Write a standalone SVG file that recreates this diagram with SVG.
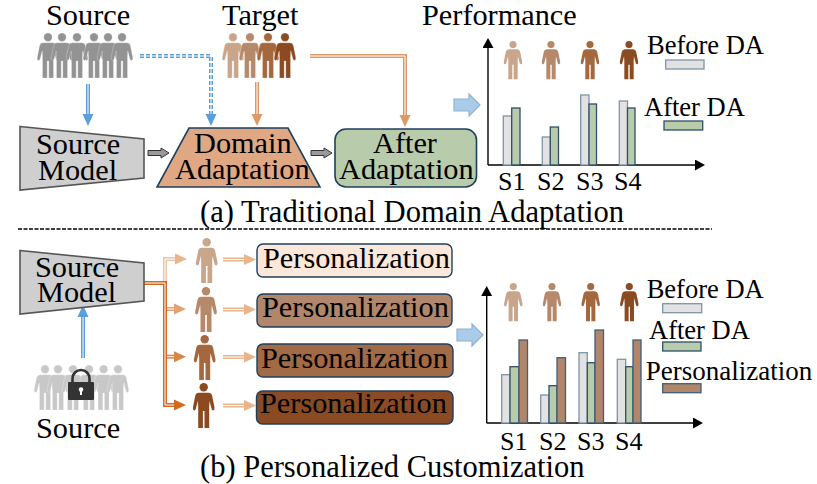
<svg xmlns="http://www.w3.org/2000/svg" width="817" height="484" viewBox="0 0 817 484">
<style>
text{font-family:"Liberation Serif","Times New Roman",serif;font-size:30.300px;fill:#000}
.lg{font-size:26.500px}.sx{font-size:26px}
.dk{stroke:#1f3f5f;stroke-width:1.6}
.mod{fill:#cfcfcf;stroke:#555;stroke-width:1.6}
.pb{stroke:#1f3f5f;stroke-width:1.4;rx:6px}
.g{fill:#e2e2e2;stroke:#7f93a8;stroke-width:1.3}
.v{fill:#b8cbab;stroke:#2f4f6a;stroke-width:1.3}
.b{fill:#b2866a;stroke:#3f5f7a;stroke-width:1.3}
.ax{stroke:#000;stroke-width:1.4;fill:none}
.w{fill:none;stroke:#fff;stroke-width:1}
.l{fill:none;stroke-width:4}
.bl{stroke:#5b9fd8}.or{stroke:#dc9a68}.pa{stroke:#e8b48c}.dr{stroke:#d2691e}.li{stroke:#ecc4a6}
.blk{fill:#a9cce9;stroke:#8fb2d0;stroke-width:1.2}
.gr{fill:#9a9a9a;stroke:#333;stroke-width:1}
</style>
<defs>
<g id="p"><circle cx="0" cy="4.200" r="4.200"/><path d="M-4.800,9.800H4.800Q7.800,9.800 8.500,13L10.800,24.500Q11.100,27 9.700,27.400Q8.400,27.700 7.900,26L5.800,18L5.500,24V45H0.800V28H-0.800V45H-5.500V24L-5.800,18L-7.900,26Q-8.400,27.700-9.700,27.400Q-11.100,27-10.800,24.500L-8.500,13Q-7.800,9.800-4.800,9.800Z"/></g>
<marker id="mb" markerUnits="userSpaceOnUse" markerWidth="12" markerHeight="12" refX="0" refY="6" orient="auto"><path d="M0,0.500L12,6L0,11.500Z" fill="#5b9fd8"/></marker>
<marker id="mo" markerUnits="userSpaceOnUse" markerWidth="12" markerHeight="12" refX="0" refY="6" orient="auto"><path d="M0,0.500L12,6L0,11.500Z" fill="#dc9a68"/></marker>
<marker id="mp" markerUnits="userSpaceOnUse" markerWidth="12" markerHeight="12" refX="0" refY="6" orient="auto"><path d="M0,0.500L12,6L0,11.500Z" fill="#e8b48c"/></marker>
<marker id="m2" markerUnits="userSpaceOnUse" markerWidth="12" markerHeight="12" refX="0" refY="6" orient="auto"><path d="M0,0.500L12,6L0,11.500Z" fill="#e2a274"/></marker>
<marker id="m3" markerUnits="userSpaceOnUse" markerWidth="12" markerHeight="12" refX="0" refY="6" orient="auto"><path d="M0,0.500L12,6L0,11.500Z" fill="#da8446"/></marker>
<marker id="m4" markerUnits="userSpaceOnUse" markerWidth="12" markerHeight="12" refX="0" refY="6" orient="auto"><path d="M0,0.500L12,6L0,11.500Z" fill="#d2691e"/></marker>
<marker id="ma" markerUnits="userSpaceOnUse" markerWidth="11" markerHeight="11" refX="0" refY="5.500" orient="auto"><path d="M0,0L10,5.500L0,11Z" fill="#000"/></marker>
</defs>
<rect width="817" height="484" fill="#fff"/>

<g id="source-a">
<text x="46" y="25">Source</text>
<g fill="#939393" stroke="#fff" stroke-width=".25">
<use href="#p" x="48" y="33"/><use href="#p" x="62" y="33"/><use href="#p" x="77" y="33"/><use href="#p" x="94" y="33"/><use href="#p" x="108" y="33"/><use href="#p" x="122" y="33"/>
</g></g>
<g id="target-a">
<text x="222" y="25">Target</text>
<g stroke="#fff" stroke-width=".25">
<use href="#p" x="233" y="33" fill="#c9a58c"/><use href="#p" x="250" y="33" fill="#b5896a"/><use href="#p" x="268" y="33" fill="#a5683e"/><use href="#p" x="285" y="33" fill="#8b4a20"/>
</g></g>
<g id="source-model-a"><path class="mod" d="M20,126.500L144,139V178L20,190Z"/><text x="36" y="154">Source</text><text x="38" y="180">Model</text></g>
<g id="domain-adaptation"><path class="dk" fill="#e0a783" d="M189,128H288L320,187H157Z"/><text x="194" y="153">Domain</text><text x="175" y="179">Adaptation</text></g>
<g id="after-adaptation"><rect class="dk" x="335" y="129" width="141.500" height="58" rx="11" fill="#b8cbab"/><text x="373" y="153">After</text><text x="339" y="179">Adaptation</text></g>

<g id="connectors">
<path class="l bl" d="M88,84V114" marker-end="url(#mb)"/><path class="w" d="M88,84V114"/>
<path class="l bl" stroke-dasharray="4 2" d="M140,56H211V114" marker-end="url(#mb)"/><path class="w" d="M140,56H211V114"/>
<path class="l or" d="M257,82V114" marker-end="url(#mo)"/><path class="w" d="M257,82V114"/>
<path class="l or" d="M310,56H405V115" marker-end="url(#mo)"/><path class="w" d="M310,56H405V115"/>
<path class="gr" d="M148,150.500H161V148L169,153L161,158V155.500H148Z"/>
<path class="gr" d="M311,150.500H324V148L332,153L324,158V155.500H311Z"/>
<path class="blk" d="M454,99H469V94L480,105L469,116V111H454Z"/>
<path class="blk" d="M457,329H472V324L483,335L472,346V341H457Z"/>

<path class="l bl" d="M83,358V317" marker-end="url(#mb)"/><path class="w" d="M83,358V317"/>
<path class="l li" d="M165,283V259H175" marker-end="url(#mp)"/><path class="w" d="M165,283V259H175"/>
<path class="l" stroke="#e2a274" d="M165,309H174" marker-end="url(#m2)"/><path class="w" d="M165,309H174"/>
<path class="l" stroke="#da8446" d="M165,356.700H174" marker-end="url(#m3)"/><path class="w" d="M165,356.700H174"/>
<path class="l dr" d="M144,283H165V405H174" marker-end="url(#m4)"/><path class="w" d="M144,283H165V405H174"/>
<path class="l pa" d="M223,259.500H244" marker-end="url(#mp)"/><path class="w" d="M223,259.500H244"/>
<path class="l pa" d="M223,309.500H244" marker-end="url(#mp)"/><path class="w" d="M223,309.500H244"/>
<path class="l pa" d="M223,357H244" marker-end="url(#mp)"/><path class="w" d="M223,357H244"/>
<path class="l pa" d="M223,405.500H244" marker-end="url(#mp)"/><path class="w" d="M223,405.500H244"/>
</g>

<g id="chart-a">
<text x="422" y="25">Performance</text>
<path class="ax" d="M488,165V48" marker-end="url(#ma)"/><path class="ax" d="M488,165H695" marker-end="url(#ma)"/>
<g transform="translate(513,41) scale(.85)"><use href="#p" fill="#c9a58c"/></g>
<g transform="translate(551,41) scale(.85)"><use href="#p" fill="#b5896a"/></g>
<g transform="translate(590,41) scale(.85)"><use href="#p" fill="#a5683e"/></g>
<g transform="translate(629,41) scale(.85)"><use href="#p" fill="#8b4a20"/></g>
<rect class="g" x="503.300" y="116" width="8.400" height="49"/><rect class="v" x="511.700" y="108" width="8.300" height="57"/>
<rect class="g" x="542.300" y="137" width="8" height="28"/><rect class="v" x="550.300" y="127" width="8.200" height="38"/>
<rect class="g" x="580.700" y="95" width="8.300" height="70"/><rect class="v" x="589" y="104" width="7.500" height="61"/>
<rect class="g" x="619.300" y="101" width="8.200" height="64"/><rect class="v" x="627.500" y="108" width="7.500" height="57"/>
<text class="lg" x="647" y="54">Before DA</text><rect class="g" x="665.700" y="60" width="38.300" height="9"/>
<text class="lg" x="644" y="116">After DA</text><rect class="v" x="664" y="121" width="38.700" height="9"/>
<text class="sx" x="498" y="190">S1</text><text class="sx" x="537" y="190">S2</text><text class="sx" x="576" y="190">S3</text><text class="sx" x="614" y="190">S4</text>
</g>
<text id="caption-a" x="200" y="222" style="font-size:30.600px">(a) Traditional Domain Adaptation</text>
<path id="divider" d="M18,229H712" stroke="#000" stroke-width="1.400" stroke-dasharray="4 1.500" fill="none"/>

<g id="source-model-b"><path class="mod" d="M20,250.500L144,263V301L20,314Z"/><text x="35" y="277">Source</text><text x="37" y="302">Model</text></g>
<g id="source-b">
<g fill="#c8c8c8" stroke="#fff" stroke-width=".25">
<use href="#p" x="45" y="365"/><use href="#p" x="58" y="365"/><use href="#p" x="73" y="365"/><use href="#p" x="89" y="365"/><use href="#p" x="103.600" y="365"/><use href="#p" x="118" y="365"/>
</g>
<path d="M72.500,383V378.500A8.500,8.500 0 0 1 89.500,378.500V383" fill="none" stroke="#333" stroke-width="2.600"/>
<rect x="68" y="382" width="26" height="18" rx="1" fill="#333"/>
<circle cx="81" cy="389.500" r="2.300" fill="#fff"/><rect x="80" y="390" width="2" height="5" fill="#fff"/>
<text x="36" y="438">Source</text>
</g>
<g id="user-1"><use href="#p" x="206.700" y="238" fill="#c9a58c"/></g>
<g id="user-2"><use href="#p" x="206" y="287" fill="#b5896a"/></g>
<g id="user-3"><use href="#p" x="204.700" y="335" fill="#a5683e"/></g>
<g id="user-4"><use href="#p" x="203.700" y="383" fill="#8b4a20"/></g>
<g id="pers-1"><rect class="pb" x="257" y="244" width="195" height="33" fill="#fbe8da"/><text x="263" y="267.700">Personalization</text></g>
<g id="pers-2"><rect class="pb" x="257" y="294" width="195" height="33" fill="#b2866a"/><text x="262" y="317">Personalization</text></g>
<g id="pers-3"><rect class="pb" x="257" y="344" width="196" height="33" fill="#a26a45"/><text x="261" y="368">Personalization</text></g>
<g id="pers-4"><rect class="pb" x="256.500" y="391" width="196.500" height="33" fill="#8a4a24"/><text x="260" y="413">Personalization</text></g>

<g id="chart-b">
<path class="ax" d="M486.700,423V296" marker-end="url(#ma)"/><path class="ax" d="M486.700,423H693" marker-end="url(#ma)"/>
<g transform="translate(513.300,283) scale(.85)"><use href="#p" fill="#c9a58c"/></g>
<g transform="translate(552,283) scale(.85)"><use href="#p" fill="#b5896a"/></g>
<g transform="translate(590.700,283) scale(.85)"><use href="#p" fill="#a5683e"/></g>
<g transform="translate(629.300,283) scale(.85)"><use href="#p" fill="#8b4a20"/></g>
<rect class="g" x="501.700" y="374.700" width="8.300" height="48.300"/><rect class="v" x="510" y="366.700" width="9" height="56.300"/><rect class="b" x="519" y="340" width="8.500" height="83"/>
<rect class="g" x="540.700" y="395" width="8.300" height="28"/><rect class="v" x="549" y="385.700" width="8" height="37.300"/><rect class="b" x="557" y="357.700" width="8.500" height="65.300"/>
<rect class="g" x="579" y="352.700" width="8.300" height="70.300"/><rect class="v" x="587.300" y="362.700" width="7.700" height="60.300"/><rect class="b" x="595" y="330" width="8.500" height="93"/>
<rect class="g" x="617.300" y="359.300" width="8.400" height="63.700"/><rect class="v" x="625.700" y="366.700" width="7.300" height="56.300"/><rect class="b" x="633" y="340" width="8" height="83"/>
<text class="lg" x="646.700" y="298">Before DA</text><rect class="g" x="662.700" y="303.700" width="39" height="9"/>
<text class="lg" x="649" y="339">After DA</text><rect class="v" x="662.700" y="342" width="38.300" height="9"/>
<text x="645.700" y="380" style="font-size:27px">Personalization</text><rect class="b" x="662.700" y="383.700" width="38.300" height="9"/>
<text class="sx" x="500" y="450">S1</text><text class="sx" x="539" y="450">S2</text><text class="sx" x="577" y="450">S3</text><text class="sx" x="615" y="450">S4</text>
</g>
<text id="caption-b" x="200" y="477" style="font-size:30.500px">(b) Personalized Customization</text>
</svg>
